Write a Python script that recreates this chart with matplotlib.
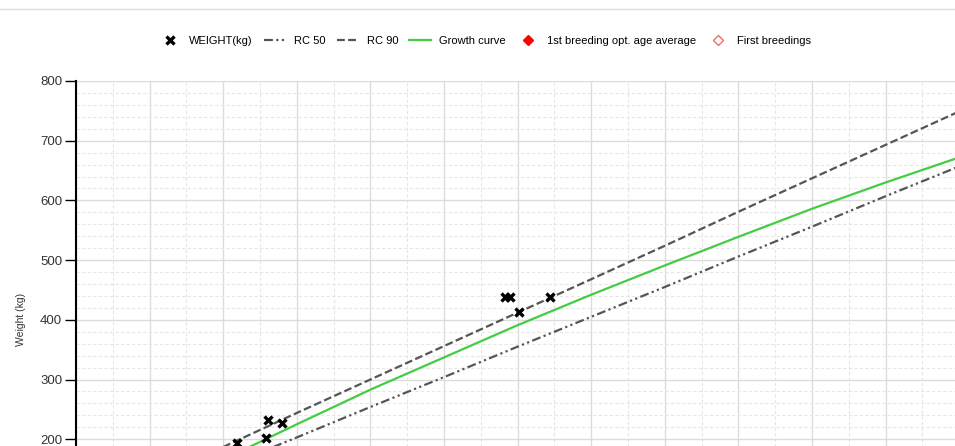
import matplotlib.pyplot as plt
from matplotlib.lines import Line2D
from matplotlib.ticker import MultipleLocator

plt.rcParams['font.family'] = ['Liberation Sans', 'DejaVu Sans']

# age axis (months)
curve_age = [4, 6, 8, 10, 12, 14, 16, 18, 20, 22, 24]
rc50 = [153, 203, 254, 304, 355, 405, 455, 506, 556, 607, 657]
rc90 = [187, 244, 300, 356, 412, 468, 524, 581, 637, 693, 749]
growth = [166, 225, 283, 337, 391, 442, 491, 539, 586, 630, 672]

weigh_age = [4.37, 5.16, 5.22, 5.60, 11.66, 11.79, 12.04, 12.88]
weigh_kg = [194, 202, 232, 227, 438, 438, 413, 438]

# not in the visible window of the chart
opt_age, opt_kg = [], []
first_age, first_kg = [], []

fig = plt.figure(figsize=(9.55, 4.46), dpi=100)
ax = fig.add_axes([0.0796, -0.2525, 0.9248, 1.0709])

ax.plot(weigh_age, weigh_kg, 'x', color='black', ms=6, mew=2.4, label='WEIGHT(kg)', zorder=5)
ax.plot(curve_age, rc50, color='#555555', lw=1.6, dashes=(4, 1.5, 1, 1.5, 1, 1.5), label='RC 50')
ax.plot(curve_age, rc90, color='#555555', lw=1.6, dashes=(3.5, 1.5), label='RC 90')
ax.plot(curve_age, growth, color='#44cc44', lw=1.6, label='Growth curve')
ax.plot(opt_age, opt_kg, 'D', color='red', ms=5, label='1st breeding opt. age average')
ax.plot(first_age, first_kg, 'D', mfc='white', mec='#ff6666', ms=5, label='First breedings')

ax.set_xlim(0, 24)
ax.set_ylim(0, 800)
ax.xaxis.set_major_locator(MultipleLocator(2))
ax.xaxis.set_minor_locator(MultipleLocator(1))
ax.yaxis.set_major_locator(MultipleLocator(100))
ax.yaxis.set_minor_locator(MultipleLocator(20))
ax.grid(which='major', color='#dcdcdc', lw=1)
ax.grid(which='minor', color='#e6e6e6', lw=0.8, ls=(0, (3, 2)))
ax.set_axisbelow(True)

for s in ['top', 'right']:
    ax.spines[s].set_visible(False)
ax.spines['left'].set_linewidth(1.5)
ax.tick_params(axis='y', which='major', length=8, width=1, pad=2, labelsize=9.5, labelcolor='#333333')
ax.tick_params(axis='y', which='minor', length=0)
ax.tick_params(axis='x', which='both', length=0, labelbottom=False)
ax.set_ylabel('Weight (kg)', fontsize=7.5, color='#333333', labelpad=10)

ax.legend(loc='center', bbox_to_anchor=(0.508, 0.908), bbox_transform=fig.transFigure,
          ncol=6, frameon=False, fontsize=8, handlelength=2, handletextpad=0.7,
          columnspacing=1.0, numpoints=1)

# thin frame line at the top of the panel
fig.add_artist(Line2D([0, 1], [0.98, 0.98], transform=fig.transFigure, color='#dddddd', lw=1))

fig.savefig('out.png', dpi=100)
